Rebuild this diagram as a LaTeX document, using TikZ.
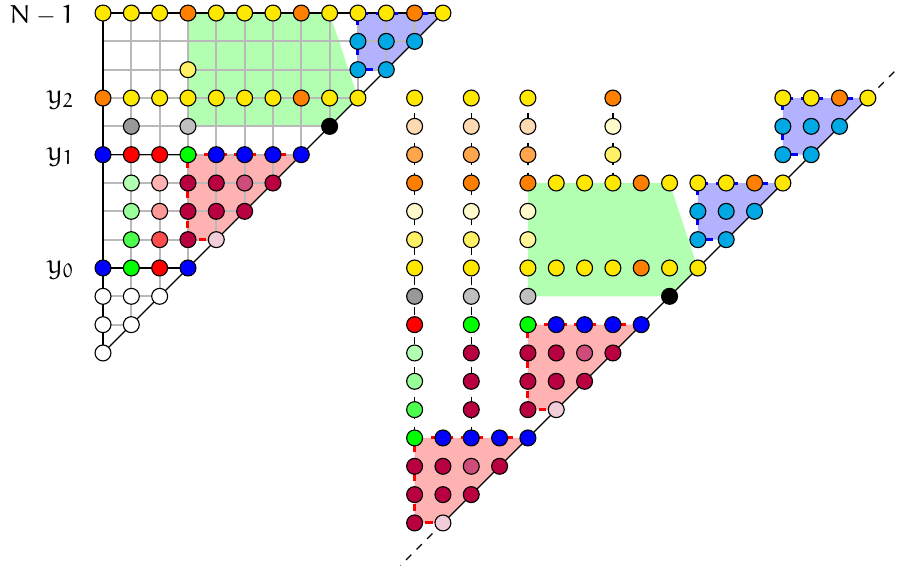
\documentclass[tikz,border=0pt]{standalone}
\DeclareMathAlphabet{\mathEu}{U}{eur}{m}{n}
\definecolor{Yc}{RGB}{255,232,0}
\definecolor{Oc}{RGB}{255,127,0}
\definecolor{Cc}{RGB}{0,168,228}
\definecolor{Pc}{RGB}{185,0,65}
\definecolor{Bc}{RGB}{0,0,255}
\definecolor{Rc}{RGB}{255,0,0}
\definecolor{Gc}{RGB}{0,255,0}
\tikzset{
  dot/.style={circle, draw=black, line width=0.45pt, minimum size=6.4pt, inner sep=0pt},
  gridln/.style={gray!55, line width=0.9pt},
  edgeln/.style={black, line width=0.5pt},
  vdash/.style={black, line width=0.5pt, dashed},
  redb/.style={Rc, line width=1.2pt, dashed},
  blueb/.style={Bc, line width=1.2pt, dashed},
  gfill/.style={fill=green!30},
  bfill/.style={fill=blue!30},
  pfill/.style={fill=red!30},
  lab/.style={anchor=base east, inner sep=0pt, font=\fontsize{10.95}{13}\selectfont}
}
\begin{document}
\begin{tikzpicture}[x=0.4cm,y=0.4cm]
\useasboundingbox (-3.636,-7.62) rectangle (28.17,12.46);
% ---------- fills ----------
\fill[gfill] (3,8) -- (3,12) -- (8,12) -- (9,9) -- (8,8) -- cycle;
\fill[bfill] (9,10) -- (9,12) -- (12,12) -- (10,10) -- cycle;
\fill[pfill] (3,4) -- (3,7) -- (7,7) -- (4,4) -- cycle;
\fill[gfill] (15,2) -- (15,6) -- (20,6) -- (21,3) -- (20,2) -- cycle;
\fill[bfill] (21,4) -- (21,6) -- (24,6) -- (22,4) -- cycle;
\fill[bfill] (24,7) -- (24,9) -- (27,9) -- (25,7) -- cycle;
\fill[pfill] (15,-2) -- (15,1) -- (19,1) -- (16,-2) -- cycle;
\fill[pfill] (11,-6) -- (11,-3) -- (15,-3) -- (12,-6) -- cycle;
% ---------- left grid ----------
\foreach \j in {1,...,11} \draw[gridln] (0,\j) -- (\j,\j);
\foreach \i in {1,...,11} \draw[gridln] (\i,\i) -- (\i,12);
\draw[edgeln] (0,0) -- (0,12) -- (12,12);
\draw[edgeln] (0,0) -- (12,12);
\draw[edgeln] (0,7) -- (3,7);
\draw[edgeln] (0,3) -- (3,3);
% ---------- right lines ----------
\draw[edgeln] (12,-6) -- (27,9);
\draw[edgeln, dashed] (12,-6) -- (10.5,-7.5);
\draw[edgeln, dashed] (27,9) -- (28,10);
\draw[vdash] (11,9) -- (11,-3);
\draw[vdash] (13,9) -- (13,-3);
\draw[vdash] (15,9) -- (15,6);
\draw[vdash] (18,9) -- (18,6);
% ---------- dashed borders ----------
\draw[redb] (7,7) -- (3,7) -- (3,4) -- (4,4);
\draw[blueb] (12,12) -- (9,12) -- (9,10) -- (10,10);
\draw[redb] (19,1) -- (15,1) -- (15,-2) -- (16,-2);
\draw[redb] (15,-3) -- (11,-3) -- (11,-6) -- (12,-6);
\draw[blueb] (24,6) -- (21,6) -- (21,4) -- (22,4);
\draw[blueb] (27,9) -- (24,9) -- (24,7) -- (25,7);
% ---------- left nodes ----------
\foreach \x/\y/\c in {
  0/12/Yc,1/12/Yc,2/12/Yc,3/12/Oc,4/12/Yc,5/12/Yc,6/12/Yc,7/12/Oc,8/12/Yc,9/12/Yc,10/12/Yc,11/12/Oc,12/12/Yc,
  9/11/Cc,10/11/Cc,11/11/Cc,
  3/10/Yc!60,9/10/Cc,10/10/Cc,
  0/9/Oc,1/9/Yc,2/9/Yc,3/9/Yc,4/9/Yc,5/9/Yc,6/9/Yc,7/9/Oc,8/9/Yc,9/9/Yc,
  1/8/gray!80,3/8/gray!50,8/8/black,
  0/7/Bc,1/7/Rc,2/7/Rc,3/7/Gc,4/7/Bc,5/7/Bc,6/7/Bc,7/7/Bc,
  1/6/Gc!30,2/6/Rc!30,3/6/Pc,4/6/Pc,5/6/Pc!70,6/6/Pc,
  1/5/Gc!40,2/5/Rc!40,3/5/Pc,4/5/Pc,5/5/Pc,
  1/4/Gc!70,2/4/Rc!70,3/4/Pc,4/4/Pc!20,
  0/3/Bc,1/3/Gc,2/3/Rc,3/3/Bc,
  0/2/white,1/2/white,2/2/white,
  0/1/white,1/1/white,
  0/0/white}
  \node[dot, fill=\c] (L-\x-\y) at (\x,\y) {};
% ---------- right nodes ----------
\foreach \x/\y/\c in {
  11/9/Yc,11/8/Oc!30,11/7/Oc!70,11/6/Oc,11/5/Yc!20,11/4/Yc!60,11/3/Yc,11/2/gray!80,11/1/Rc,11/0/Gc!30,11/-1/Gc!40,11/-2/Gc!70,11/-3/Gc,
  11/-4/Pc,11/-5/Pc,11/-6/Pc,
  13/9/Yc,13/8/Oc!30,13/7/Oc!70,13/6/Oc,13/5/Yc!20,13/4/Yc!60,13/3/Yc,13/2/gray!50,13/1/Gc,13/0/Pc,13/-1/Pc,13/-2/Pc,13/-3/Bc,
  15/9/Yc,15/8/Oc!30,15/7/Oc!70,15/6/Oc,15/5/Yc!20,15/4/Yc!40,15/3/Yc,15/2/gray!50,15/1/Gc,15/0/Pc,15/-1/Pc,15/-2/Pc,15/-3/Bc,
  18/9/Oc,18/8/Yc!20,18/7/Yc!60,
  16/6/Yc,17/6/Yc,18/6/Yc,19/6/Oc,20/6/Yc,21/6/Yc,22/6/Yc,23/6/Oc,24/6/Yc,
  21/5/Cc,22/5/Cc,23/5/Cc,21/4/Cc,22/4/Cc,
  16/3/Yc,17/3/Yc,18/3/Yc,19/3/Oc,20/3/Yc,21/3/Yc,
  20/2/black,
  16/1/Bc,17/1/Bc,18/1/Bc,19/1/Bc,
  16/0/Pc,17/0/Pc!70,18/0/Pc,
  16/-1/Pc,17/-1/Pc,
  16/-2/Pc!20,
  12/-3/Bc,14/-3/Bc,
  12/-4/Pc,13/-4/Pc!70,14/-4/Pc,
  12/-5/Pc,13/-5/Pc,
  12/-6/Pc!20,
  24/9/Yc,25/9/Yc,26/9/Oc,27/9/Yc,
  24/8/Cc,25/8/Cc,26/8/Cc,
  24/7/Cc,25/7/Cc}
  \node[dot, fill=\c] (R-\x-\y) at (\x,\y) {};
% ---------- labels ----------
\node[lab, font=\fontsize{10.4}{12}\selectfont] (lN) at (-1.0,11.64) {$\mathEu{N}-\mathEu{1}$};
\node[lab] (l2) at (-1.0,8.81) {$\mathEu{y}_{\mathEu{2}}$};
\node[lab] (l1) at (-1.0,6.81) {$\mathEu{y}_{\mathEu{1}}$};
\node[lab] (l0) at (-1.0,2.81) {$\mathEu{y}_{\mathEu{0}}$};
\end{tikzpicture}
\end{document}
